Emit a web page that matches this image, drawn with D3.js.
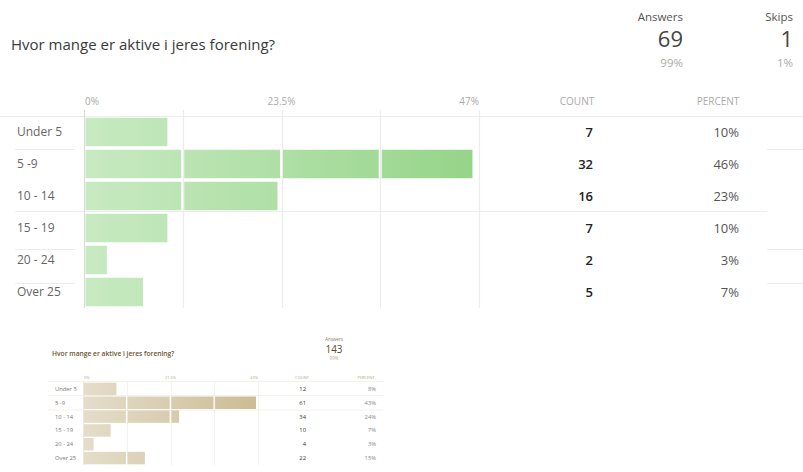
<!DOCTYPE html>
<html><head><meta charset="utf-8">
<script src="https://cdn.jsdelivr.net/npm/d3@7"></script>
<style>
html,body{margin:0;padding:0;background:#fff;}
svg{display:block;font-family:"Open Sans",sans-serif;}
</style></head>
<body><svg id="c" width="803" height="472"></svg>
<script>
// ---- data ----
const question = "Hvor mange er aktive i jeres forening?";
const categories = ["Under 5", "5 -9", "10 - 14", "15 - 19", "20 - 24", "Over 25"];

const mainCounts = [7, 32, 16, 7, 2, 5];
const mainPercents = [10.1, 46.4, 23.2, 10.1, 2.9, 7.2];
const mainPercentLabels = ["10%", "46%", "23%", "10%", "3%", "7%"];
const mainAxisTicks = [0, 23.5, 47];
const mainAxisLabels = ["0%", "23.5%", "47%"];
const mainAnswers = ["Answers", "69", "99%"];
const mainSkips = ["Skips", "1", "1%"];

const insetCounts = [12, 61, 34, 10, 4, 22];
const insetPercents = [8.4, 42.7, 23.8, 7.0, 2.8, 15.4];
const insetPercentLabels = ["8%", "43%", "24%", "7%", "3%", "15%"];
const insetAxisTicks = [0, 21.5, 43];
const insetAxisLabels = ["0%", "21.5%", "43%"];
const insetAnswers = ["Answers", "143", "99%"];

const svg = d3.select("#c");
const defs = svg.append("defs");

function panel(cfg) {
  const g = svg.append("g");
  const x = d3.scaleLinear().domain([0, cfg.max]).range([cfg.x0, cfg.x1]);
  const y = d3.scaleBand().domain(cfg.cats).range([cfg.y0, cfg.y1]).paddingInner(0).paddingOuter(0);
  const step = cfg.max / 4;
  const gridVals = d3.range(0, 5).map(i => i * step);

  // gradient
  const gid = cfg.id + "grad";
  const lg = defs.append("linearGradient").attr("id", gid).attr("gradientUnits", "userSpaceOnUse")
    .attr("x1", x(0)).attr("x2", x(cfg.max)).attr("y1", 0).attr("y2", 0);
  lg.append("stop").attr("offset", 0).attr("stop-color", cfg.c0);
  lg.append("stop").attr("offset", 1).attr("stop-color", cfg.c1);

  // title
  g.append("text").attr("x", cfg.titleX).attr("y", cfg.titleY).attr("font-size", cfg.titleSize)
    .attr("font-weight", cfg.titleWeight).attr("fill", cfg.titleColor).text(question);

  // header stats
  cfg.stats.forEach(s => {
    [0, 1, 2].forEach(j => {
      g.append("text").attr("x", s.x).attr("y", s.ys[j]).attr("text-anchor", s.anchor)
        .attr("font-size", s.sizes[j]).attr("fill", s.colors[j]).text(s.vals[j]);
    });
  });

  // horizontal separators
  cfg.hlines.forEach(h => {
    g.append("line").attr("x1", h[0]).attr("x2", h[1]).attr("y1", h[2]).attr("y2", h[2])
      .attr("stroke", cfg.hColor).attr("stroke-width", cfg.hWidth);
  });

  // vertical grid
  g.selectAll(".grid").data(gridVals).join("line")
    .attr("x1", d => Math.round(x(d)) + 0.5).attr("x2", d => Math.round(x(d)) + 0.5)
    .attr("y1", cfg.gridTop).attr("y2", cfg.y1)
    .attr("stroke", (d, i) => i === 0 ? cfg.gridColor0 : cfg.gridColor)
    .attr("stroke-width", cfg.gridW);

  // axis tick labels
  const anchors = ["start", "middle", "end"];
  cfg.ticks.forEach((t, i) => {
    g.append("text").attr("x", x(t) + (i === 0 ? 1 : 0)).attr("y", cfg.headY).attr("text-anchor", anchors[i])
      .attr("font-size", cfg.headSize).attr("fill", cfg.headColor).text(cfg.tickLabels[i]);
  });
  g.append("text").attr("x", cfg.countHeadX).attr("y", cfg.headY).attr("text-anchor", "middle")
    .attr("font-size", cfg.headSize).attr("fill", cfg.headColor).text("COUNT");
  g.append("text").attr("x", cfg.pctHeadX).attr("y", cfg.headY).attr("text-anchor", "middle")
    .attr("font-size", cfg.headSize).attr("fill", cfg.headColor).text("PERCENT");

  // bars (segmented at grid lines)
  const bh = cfg.barH;
  cfg.cats.forEach((c, i) => {
    const v = cfg.values[i];
    const cy = y(c) + y.bandwidth() / 2;
    for (let k = 0; k * step < v; k++) {
      const s = k * step, e = Math.min(v, (k + 1) * step);
      const xs = x(s) + cfg.gap;
      const xe = (e === v) ? x(e) - cfg.endTrim : x(e) - cfg.gap;
      g.append("rect").attr("x", xs).attr("y", cy - bh / 2).attr("width", Math.max(0, xe - xs)).attr("height", bh)
        .attr("fill", `url(#${gid})`);
    }
    g.append("text").attr("x", cfg.labelX).attr("y", cy).attr("dy", "0.35em")
      .attr("font-size", cfg.labelSize).attr("fill", cfg.labelColor).text(c);
    g.append("text").attr("x", cfg.countX).attr("y", cy).attr("dy", "0.35em").attr("text-anchor", "end")
      .attr("font-size", cfg.numSize).attr("fill", cfg.countColor).attr("font-weight", cfg.countWeight).text(cfg.counts[i]);
    g.append("text").attr("x", cfg.pctX).attr("y", cy).attr("dy", "0.35em").attr("text-anchor", "end")
      .attr("font-size", cfg.numSize).attr("fill", cfg.pctColor).text(cfg.pctLabels[i]);
  });
}

panel({
  id: "main", cats: categories, values: mainPercents, counts: mainCounts, pctLabels: mainPercentLabels,
  max: 47, ticks: mainAxisTicks, tickLabels: mainAxisLabels,
  x0: 84, x1: 479, y0: 116, y1: 308, barH: 28.5, gap: 1.5, endTrim: 1.5,
  c0: "#c8eac2", c1: "#95d488",
  titleX: 11, titleY: 50, titleSize: 15, titleWeight: 400, titleColor: "#3a3a3a",
  stats: [
    { x: 683, anchor: "end", vals: mainAnswers, ys: [21, 47, 67], sizes: [11.5, 22, 11.5], colors: ["#555", "#444", "#aaa"] },
    { x: 793, anchor: "end", vals: mainSkips, ys: [21, 47, 67], sizes: [11.5, 22, 11.5], colors: ["#555", "#444", "#aaa"] }
  ],
  hlines: [[0, 803, 116.5], [15, 75, 149.5], [767, 803, 149.5], [15, 767, 211.5], [15, 75, 249.5], [767, 803, 249.5], [15, 75, 283.5], [767, 803, 283.5]],
  hColor: "#ececec", hWidth: 1.2,
  gridTop: 110, gridColor0: "#dcdcdc", gridColor: "#ececec", gridW: 1.2,
  headY: 105, headSize: 10, headColor: "#aaa", countHeadX: 577, pctHeadX: 718,
  labelX: 17, labelSize: 12, labelColor: "#666",
  countX: 593, pctX: 739, numSize: 13, countColor: "#222", countWeight: 600, pctColor: "#555"
});

panel({
  id: "inset", cats: categories, values: insetPercents, counts: insetCounts, pctLabels: insetPercentLabels,
  max: 43, ticks: insetAxisTicks, tickLabels: insetAxisLabels,
  x0: 83, x1: 258, y0: 382, y1: 465, barH: 12.5, gap: 0.8, endTrim: 0.8,
  c0: "#e5ddca", c1: "#cbbc95",
  titleX: 52, titleY: 356, titleSize: 6.7, titleWeight: 600, titleColor: "#6b5530",
  stats: [
    { x: 334, anchor: "middle", vals: insetAnswers, ys: [341, 353, 360], sizes: [4.5, 10, 4.5], colors: ["#8a7a5a", "#5c4a2a", "#b8a888"] }
  ],
  hlines: [[48, 383, 381.5], [48, 383, 395.5], [48, 383, 410]],
  hColor: "#f2efe8", hWidth: 0.8,
  gridTop: 381, gridColor0: "#e8e4da", gridColor: "#f2efe8", gridW: 0.8,
  headY: 379, headSize: 4, headColor: "#b5a888", countHeadX: 302, pctHeadX: 366,
  labelX: 55, labelSize: 5.8, labelColor: "#777",
  countX: 306, pctX: 376, numSize: 5.8, countColor: "#333", countWeight: 400, pctColor: "#888"
});
</script></body></html>
